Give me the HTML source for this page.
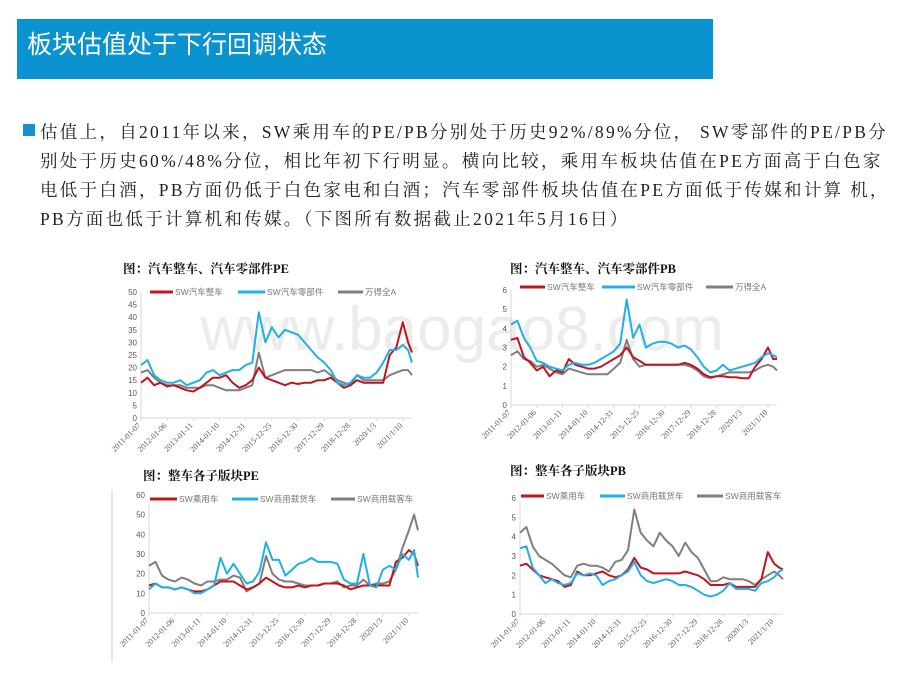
<!DOCTYPE html>
<html><head><meta charset="utf-8"><style>
body{margin:0;width:920px;height:690px;background:#fff;position:relative;overflow:hidden;font-family:"Liberation Serif","Noto Serif CJK SC",serif;}
#bar{position:absolute;left:17px;top:19px;width:696px;height:60px;background:#0b93cf;}
#bar span{position:absolute;left:10px;top:6px;color:#fff;font-size:25px;font-family:"Liberation Sans","Noto Sans CJK SC",sans-serif;}
.ln{position:absolute;left:40px;font-size:17.5px;letter-spacing:2.3px;color:#222;white-space:nowrap;}
#bul{position:absolute;left:23px;top:124px;width:12px;height:12px;background:#1a8fd0;}
svg{position:absolute;left:0;top:0;}
</style></head><body>
<div id="bar"><span>板块估值处于下行回调状态</span></div>
<div id="bul"></div>
<div class="ln" style="top:119px">估值上，自2011年以来，SW乘用车的PE/PB分别处于历史92%/89%分位， SW零部件的PE/PB分</div>
<div class="ln" style="top:148px">别处于历史60%/48%分位，相比年初下行明显。横向比较，乘用车板块估值在PE方面高于白色家</div>
<div class="ln" style="top:177px">电低于白酒，PB方面仍低于白色家电和白酒；汽车零部件板块估值在PE方面低于传媒和计算 机，</div>
<div class="ln" style="top:206px">PB方面也低于计算机和传媒。（下图所有数据截止2021年5月16日）</div>
<svg id="s" width="920" height="690" xmlns="http://www.w3.org/2000/svg"></svg>
<script>
const years=[0,0.25,0.5,0.75,1,1.25,1.5,1.75,2,2.25,2.5,2.75,3,3.25,3.5,3.75,4,4.25,4.5,4.75,5,5.25,5.5,5.75,6,6.25,6.5,6.75,7,7.25,7.5,7.75,8,8.25,8.5,8.75,9,9.25,9.5,9.75,10,10.2,10.35];
const xLabels=["2011-01-07","2012-01-06","2013-01-11","2014-01-10","2014-12-31","2015-12-25","2016-12-30","2017-12-29","2018-12-28","2020/1/3","2021/1/10"];
const xLabelYears=[0,1,2,3,4,5,6,7,8,9,10];
const peTicks=[0,5,10,15,20,25,30,35,40,45,50];
const pbTicks=[0,1,2,3,4,5,6];
const pe60Ticks=[0,10,20,30,40,50,60];
const c1Red=[14,16,13,14,12.5,13,12,11,10.5,12,14,16,16,17,14,12,13,15,20,16,15,14,13,14,13.5,14,14,15,15,16,14,12,13,15,14,14,14,14,25,28,38,30,26];
const c1Blue=[21,23,17,15,14,14,15,13,14,15,18,19,17,18,19,19,21,22,42,30,36,32,35,34,33,30,27,24,22,19,14,13,14,17,16,16,18,22,27,27,29,27,22];
const c1Gray=[18,19,16,14,13,13,13,12,12,12,13,13,12,11,11,11,12,13,26,16,17,18,19,19,19,19,19,18,19,17,15,14,13,17,15,15,15,15,17,18,19,19,17];
const c2Red=[3.4,3.5,2.5,2.2,1.8,2.0,1.5,1.8,1.7,2.4,2.1,2.0,1.9,1.9,2.0,2.2,2.4,2.6,3.0,2.5,2.3,2.1,2.1,2.1,2.1,2.1,2.1,2.2,2.1,1.9,1.6,1.45,1.5,1.5,1.45,1.45,1.4,1.4,2.0,2.4,3.0,2.4,2.4];
const c2Blue=[4.2,4.4,3.5,3.0,2.3,2.2,2.0,1.9,1.8,2.1,2.2,2.1,2.1,2.2,2.4,2.6,2.8,3.2,5.5,3.5,4.2,3.0,3.2,3.3,3.3,3.2,3.0,3.1,2.9,2.5,2.0,1.7,1.8,2.1,1.8,1.9,2.0,2.1,2.2,2.5,2.7,2.6,2.5];
const c2Gray=[2.6,2.8,2.4,2.3,2.0,2.1,1.9,1.7,1.6,1.9,1.8,1.7,1.6,1.6,1.6,1.6,1.9,2.2,3.4,2.4,2.0,2.1,2.1,2.1,2.1,2.1,2.1,2.1,2.0,1.8,1.5,1.4,1.5,1.6,1.7,1.7,1.7,1.7,1.8,2.0,2.1,2.0,1.8];
const c3Red=[14,15,13,13,12,13,12,11,11,12,14,16,16,16,14,12,13,15,18,16,14,13,13,14,13,14,14,15,15,15,14,12,13,14,14,14,14,14,26,28,32,30,24];
const c3Blue=[12,15,13,13,12,13,12,10,10,12,14,28,20,25,20,15,16,21,36,27,27,19,22,25,26,28,26,26,26,25,17,15,15,30,14,13,22,24,22,30,27,32,18];
const c3Gray=[24,26,19,17,16,18,17,15,14,16,16,17,17,19,18,11,13,15,29,20,17,16,16,15,14,14,14,15,15,16,13,14,14,17,14,15,15,16,22,33,42,50,42];
const c4Red=[2.5,2.6,2.3,2.0,1.9,1.8,1.7,1.4,1.5,2.2,2.0,2.0,2.1,2.2,2.0,1.9,2.0,2.3,2.9,2.4,2.3,2.1,2.1,2.1,2.1,2.1,2.2,2.1,2.0,1.8,1.5,1.5,1.5,1.6,1.4,1.4,1.4,1.4,1.8,3.2,2.6,2.4,2.3];
const c4Blue=[3.4,3.5,2.4,2.0,1.6,1.8,1.6,1.5,1.6,2.1,2.0,2.1,2.0,1.5,1.7,1.8,2.0,2.2,2.7,2.0,1.7,1.6,1.7,1.8,1.7,1.5,1.5,1.4,1.2,1.0,0.9,1.0,1.2,1.6,1.3,1.3,1.3,1.2,1.6,1.7,1.9,2.2,2.3];
const c4Gray=[4.2,4.5,3.5,3.0,2.8,2.6,2.3,2.0,1.9,2.5,2.6,2.5,2.5,2.4,2.2,2.7,2.8,3.3,5.4,4.2,3.8,3.5,4.2,3.8,3.5,3.0,3.7,3.2,2.9,2.3,1.7,1.7,1.9,1.8,1.8,1.8,1.7,1.5,1.8,2.0,2.2,2.0,1.8];
const c1Names=["SW汽车整车","SW汽车零部件","万得全A"];
const c3Names=["SW乘用车","SW商用载货车","SW商用载客车"];
const COLORS=["#c0151d","#1fb0e6","#7f7f7f"];
const NS="http://www.w3.org/2000/svg";
const svg=document.getElementById('s');
function el(tag,attrs,parent){const e=document.createElementNS(NS,tag);for(const k in attrs)e.setAttribute(k,attrs[k]);(parent||svg).appendChild(e);return e;}
const wm=el('text',{x:462,y:350,'text-anchor':'middle','font-size':62,fill:'#ececec','font-family':'Liberation Sans,sans-serif'});
wm.textContent='www.baogao8.com';


function chart(id,title,tx,ty,x0,x1,yTop,yBot,ticks,series,names,leg){
  const g=el('g',{});
  
  
  const t=el('text',{x:tx,y:ty,'font-size':12.5,'font-weight':'bold',fill:'#111','font-family':'Liberation Serif,Noto Serif CJK SC,serif'},g);
  t.textContent=title;
  
  
  const maxV=ticks[ticks.length-1];
  const X=v=>x0+(x1-x0)*v/10.35, Y=v=>yBot-(yBot-yTop)*v/maxV;
  const ax=el('g',{},g);
  
  
  el('line',{x1:x0,y1:yTop,x2:x0,y2:yBot,stroke:'#d9d9d9','stroke-width':1},ax);
  el('line',{x1:x0,y1:yBot,x2:x1,y2:yBot,stroke:'#d9d9d9','stroke-width':1},ax);
  ticks.forEach(v=>{const tt=el('text',{x:x0-4,y:Y(v)+3,'text-anchor':'end','font-size':8,fill:'#595959','font-family':'Liberation Sans,sans-serif'},ax);tt.textContent=v;
    
    });
  xLabels.forEach((s,i)=>{const x=X(xLabelYears[i]);el('line',{x1:x,y1:yBot,x2:x,y2:yBot+3,stroke:'#d9d9d9'},ax);
    const tt=el('text',{x:x,y:yBot+8,'text-anchor':'end','font-size':8,fill:'#595959','font-family':'Liberation Serif,serif',transform:`rotate(-45 ${x} ${yBot+8})`},ax);tt.textContent=s;
    
    });
  [2,0,1].forEach(k=>{const d=series[k].map((v,i)=>(i?'L':'M')+X(years[i]).toFixed(1)+','+Y(v).toFixed(1)).join('');
    const p=el('path',{d:d,fill:'none',stroke:COLORS[k],'stroke-width':2,'stroke-linejoin':'round'},g);
    
    });
  names.forEach((n,k)=>{const [a,b,c]=leg[k];
    const lg=el('g',{},g);
    
    
    el('rect',{x:a-2,y:leg[3]-5,width:(c-a)+n.length*8+4,height:10,fill:'#fff'},lg);
    el('line',{x1:a,y1:leg[3],x2:b,y2:leg[3],stroke:COLORS[k],'stroke-width':3},lg);
    const tt=el('text',{x:c,y:leg[3]+3,'font-size':8.5,fill:'#777','font-family':'Liberation Sans,Noto Sans CJK SC,sans-serif'},lg);tt.textContent=n;});
}
chart('pe-chart-1','图：汽车整车、汽车零部件PE',123,273,141,412,292,418,peTicks,[c1Red,c1Blue,c1Gray],c1Names,[[150,173,175],[238,265,267],[338,363,365],292]);
chart('pb-chart-1','图：汽车整车、汽车零部件PB',510,273,511,777,290,405,pbTicks,[c2Red,c2Blue,c2Gray],c1Names,[[520,545,547],[602,635,637],[706,733,735],287]);
chart('pe-chart-2','图：整车各子版块PE',143,480,149,418,495,613,pe60Ticks,[c3Red,c3Blue,c3Gray],c3Names,[[150,177,179],[232,258,260],[331,355,357],499]);
chart('pb-chart-2','图：整车各子版块PB',510,475,520,783,498,614,pbTicks,[c4Red,c4Blue,c4Gray],c3Names,[[521,544,546],[600,625,627],[697,723,725],496]);
const bl=el('line',{x1:112,y1:490,x2:112,y2:662,stroke:'#cfcfcf'});


</script>
</body></html>
